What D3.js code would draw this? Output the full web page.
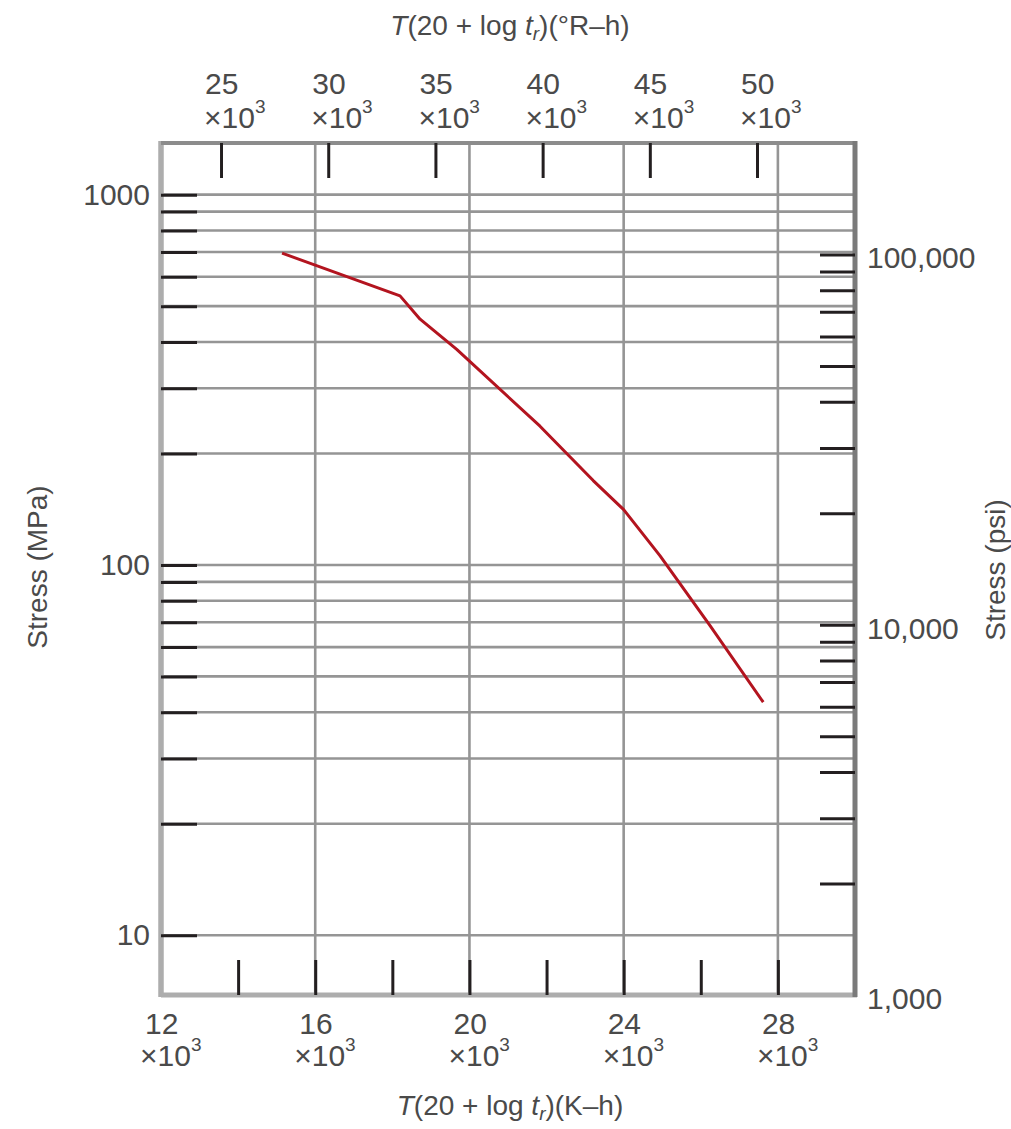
<!DOCTYPE html>
<html>
<head>
<meta charset="utf-8">
<script src="https://cdn.jsdelivr.net/npm/d3@7"></script>
<style>
  body { margin: 0; background: #fff; }
  svg text { font-family: "Liberation Sans", Arial, sans-serif; fill: #4a4a4a; }
</style>
</head>
<body>
<div id="chart"></div>
<script>
// Larson-Miller parameter in K-h (bottom) and deg R-h (top)
const kDomain = [12000, 30000];
const rDomain = [22200, 54570];
const kTicks = [14000, 16000, 18000, 20000, 22000, 24000, 26000, 28000];
const kLabels = [12000, 16000, 20000, 24000, 28000];
const kGrid = [16000, 20000, 24000, 28000];
const rTicks = [25000, 30000, 35000, 40000, 45000, 50000];

// stress, MPa (left) and psi (right)
const psiDomain = [1000, 200000];
const mpaTicks = [10, 20, 30, 40, 50, 60, 70, 80, 90, 100, 200, 300, 400, 500, 600, 700, 800, 900, 1000];
const mpaLabels = [10, 100, 1000];
const psiTicks = [2000, 3000, 4000, 5000, 6000, 7000, 8000, 9000, 10000,
  20000, 30000, 40000, 50000, 60000, 70000, 80000, 90000, 100000];
const psiLabels = [1000, 10000, 100000];

// the curve
const curveK = [15140, 18200, 18720, 19670, 21830, 23210, 24000, 24940, 26240, 27620];
const curveMPa = [695, 533, 461, 382, 237, 169, 141, 106, 68.6, 42.6];

const width = 1011, height = 1129;
const margin = { top: 143, right: 156, bottom: 134, left: 161 };
const PSI_TO_MPA = 0.0068948;

const svg = d3.select('#chart').append('svg')
  .attr('width', width)
  .attr('height', height);

const x = d3.scaleLinear().domain(kDomain).range([margin.left, width - margin.right]);
const xTop = d3.scaleLinear().domain(rDomain).range([margin.left, width - margin.right]);
const yPsi = d3.scaleLog().domain(psiDomain).range([height - margin.bottom, margin.top]);
const y = d3.scaleLog()
  .domain(psiDomain.map(d => d * PSI_TO_MPA))
  .range([height - margin.bottom, margin.top]);

const x0 = margin.left, x1 = width - margin.right;
const y0 = margin.top, y1 = height - margin.bottom;

// grid
svg.append('g')
  .selectAll('line')
  .data(mpaTicks)
  .join('line')
  .attr('x1', x0).attr('x2', x1)
  .attr('y1', d => y(d)).attr('y2', d => y(d))
  .attr('stroke', '#959595')
  .attr('stroke-width', 2.6);

svg.append('g')
  .selectAll('line')
  .data(kGrid)
  .join('line')
  .attr('x1', d => x(d)).attr('x2', d => x(d))
  .attr('y1', y0).attr('y2', y1)
  .attr('stroke', '#959595')
  .attr('stroke-width', 2.6);

// frame
svg.append('line').attr('x1', x0).attr('x2', x0).attr('y1', y0 - 2).attr('y2', y1 + 2)
  .attr('stroke', '#adadad').attr('stroke-width', 5.5);
svg.append('line').attr('x1', x0).attr('x2', x1 + 2).attr('y1', y1).attr('y2', y1)
  .attr('stroke', '#adadad').attr('stroke-width', 5);
svg.append('line').attr('x1', x0).attr('x2', x1 + 2).attr('y1', y0).attr('y2', y0)
  .attr('stroke', '#8c8c8c').attr('stroke-width', 4);
svg.append('line').attr('x1', x1).attr('x2', x1).attr('y1', y0 - 2).attr('y2', y1 + 2)
  .attr('stroke', '#7a7a7a').attr('stroke-width', 5);

// axes (black inner ticks)
const styleAxis = g => {
  g.select('.domain').remove();
  g.selectAll('.tick line').attr('stroke', '#231f20').attr('stroke-width', 3);
  g.selectAll('.tick text').style('font-size', '30px').attr('fill', '#4a4a4a');
};

svg.append('g')
  .attr('transform', `translate(${x0}, 0)`)
  .call(d3.axisLeft(y).tickValues(mpaTicks).tickSizeInner(-36).tickSizeOuter(0).tickPadding(11)
    .tickFormat(d => mpaLabels.includes(d) ? d3.format('d')(d) : ''))
  .call(styleAxis);

svg.append('g')
  .attr('transform', `translate(${x1}, 0)`)
  .call(d3.axisRight(yPsi).tickValues(psiTicks).tickSizeInner(-35).tickSizeOuter(0).tickFormat(''))
  .call(styleAxis);

svg.append('g')
  .selectAll('text')
  .data(psiLabels)
  .join('text')
  .attr('x', x1 + 12)
  .attr('y', d => yPsi(d) + 3)
  .attr('dy', '0.36em')
  .style('font-size', '30px')
  .text(d => d3.format(',')(d));

svg.append('g')
  .attr('transform', `translate(0, ${y1})`)
  .call(d3.axisBottom(x).tickValues(kTicks).tickSizeInner(-35).tickSizeOuter(0).tickFormat(''))
  .call(styleAxis);

svg.append('g')
  .attr('transform', `translate(0, ${y0})`)
  .call(d3.axisTop(xTop).tickValues(rTicks).tickSizeInner(-35).tickSizeOuter(0).tickFormat(''))
  .call(styleAxis);

// "nn ×10^3" labels
const stackedLabels = (vals, scale, yNum, yExp, xExp) => {
  const g = svg.append('g').selectAll('g')
    .data(vals)
    .join('g')
    .attr('transform', d => `translate(${scale(d)}, 0)`);
  g.append('text')
    .attr('x', -16).attr('y', yNum)
    .style('font-size', '30px')
    .text(d => d / 1000);
  const t = g.append('text')
    .attr('x', xExp).attr('y', yExp)
    .style('font-size', '30px');
  t.append('tspan').text('×10');
  t.append('tspan').attr('dy', -15).style('font-size', '19px').text('3');
};
stackedLabels(kLabels, x, 1034, 1066, -21);
stackedLabels(rTicks, xTop, 94, 128, -17);

// curve
const pts = curveK.map((k, i) => [k, curveMPa[i]]);
svg.append('path')
  .datum(pts)
  .attr('d', d3.line().x(d => x(d[0])).y(d => y(d[1])))
  .attr('fill', 'none')
  .attr('stroke', '#b3141f')
  .attr('stroke-width', 3)
  .attr('stroke-linejoin', 'round');

// axis titles
const lmTitle = (yPos, unit) => {
  const t = svg.append('text')
    .attr('x', (x0 + x1) / 2 + 2)
    .attr('y', yPos)
    .attr('text-anchor', 'middle')
    .style('font-size', '28px');
  t.append('tspan').style('font-style', 'italic').text('T');
  t.append('tspan').text('(20 + log ');
  t.append('tspan').style('font-style', 'italic').text('t');
  t.append('tspan').attr('dy', 5).style('font-size', '19px').style('font-style', 'italic').text('r');
  t.append('tspan').attr('dy', -5).text(')(' + unit + ')');
};
lmTitle(35, '°R–h');
lmTitle(1115, 'K–h');

svg.append('text')
  .attr('transform', 'translate(47, 567) rotate(-90)')
  .attr('text-anchor', 'middle')
  .style('font-size', '28px')
  .text('Stress (MPa)');

svg.append('text')
  .attr('transform', 'translate(1005, 570) rotate(-90)')
  .attr('text-anchor', 'middle')
  .style('font-size', '28px')
  .text('Stress (psi)');
</script>
</body>
</html>
